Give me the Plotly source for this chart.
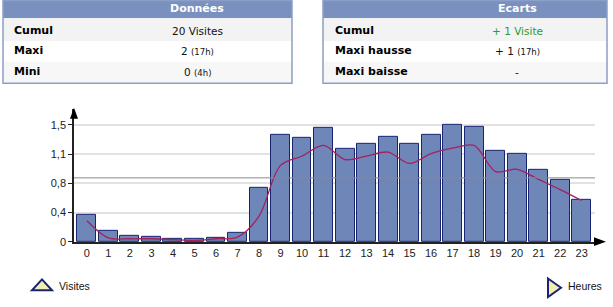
import plotly.graph_objects as go
import numpy as np

W, H = 613, 307

hours = list(range(24))
hour_labels = [str(h) for h in hours]
visites = [0.35, 0.147, 0.08, 0.068, 0.034, 0.04, 0.05, 0.11, 0.687, 1.366, 1.336, 1.457,
           1.19, 1.256, 1.349, 1.256, 1.378, 1.5, 1.475, 1.173, 1.131, 0.922, 0.796, 0.536]
tendance = [0.27, 0.05, 0.04, 0.04, 0.03, 0.02, 0.04, 0.06, 0.33, 0.98, 1.10, 1.236,
            1.055, 1.10, 1.15, 1.005, 1.13, 1.20, 1.236, 0.90, 0.93, 0.80, 0.67, 0.53]
ytick_vals = [0, 0.375, 0.75, 1.125, 1.5]
ytick_text = ["0", "0,4", "0,8", "1,1", "1,5"]
moyenne = float(np.mean(visites))

left_title = "Données"
left_rows = [("Cumul", "20 Visites", None), ("Maxi", "2", "(17h)"), ("Mini", "0", "(4h)")]
right_title = "Ecarts"
right_rows = [("Cumul", "+ 1 Visite", None), ("Maxi hausse", "+ 1", "(17h)"), ("Maxi baisse", "-", None)]

def px(x):
    return x / W

def py(y):
    return 1 - y / H

def path(pts):
    s = "M " + " L ".join(f"{px(x):.5f},{py(y):.5f}" for x, y in pts) + " Z"
    return s

fig = go.Figure()
fig.add_trace(go.Bar(x=hours, y=visites, width=0.88,
                     marker=dict(color="#6e86b8", line=dict(color="#1a2570", width=1)),
                     hoverinfo="skip", showlegend=False))
fig.add_trace(go.Scatter(x=hours, y=tendance, mode="lines", line=dict(color="#a3225e", width=1.3, shape="spline", smoothing=0.9),
                         hoverinfo="skip", showlegend=False))
fig.add_trace(go.Scatter(x=[-0.6, 23.62], y=[moyenne, moyenne], mode="lines",
                         line=dict(color="#8a8a8a", width=1), hoverinfo="skip", showlegend=False))

shapes = []
annotations = []

# Axis arrows
shapes.append(dict(type="path", xref="paper", yref="paper",
                   path=path([(74, 110), (70, 121), (78, 121)]), fillcolor="black", line=dict(width=0)))
shapes.append(dict(type="path", xref="paper", yref="paper",
                   path=path([(606, 246.5), (594, 242), (594, 251)]), fillcolor="black", line=dict(width=0)))

def draw_table(x0, x1, title, title_cx, rows, label_x, val_cx, green_first=False):
    top, hdr, bottom = 0.5, 18.5, 85
    shapes.append(dict(type="rect", xref="paper", yref="paper", x0=px(x0), x1=px(x1), y0=py(hdr), y1=py(top),
                       fillcolor="#7a90bf", line=dict(width=0)))
    row_b = [hdr, 42, 63, bottom]
    fills = ["#f3f3f3", "#ffffff", "#f7f7f7"]
    for i in range(3):
        shapes.append(dict(type="rect", xref="paper", yref="paper", x0=px(x0), x1=px(x1),
                           y0=py(row_b[i + 1]), y1=py(row_b[i]), fillcolor=fills[i], line=dict(width=0)))
    shapes.append(dict(type="rect", xref="paper", yref="paper", x0=px(x0), x1=px(x1), y0=py(bottom), y1=py(top),
                       fillcolor="rgba(0,0,0,0)", line=dict(color="#8c9fc6", width=1.5)))
    annotations.append(dict(xref="paper", yref="paper", x=px(title_cx), y=py(9), text=f"<b>{title}</b>",
                            showarrow=False, font=dict(family="DejaVu Sans", size=11, color="white"),
                            xanchor="center", yanchor="middle"))
    ys = [31.5, 52, 73]
    for i, (lab, val, sub) in enumerate(rows):
        annotations.append(dict(xref="paper", yref="paper", x=px(label_x), y=py(ys[i]), text=f"<b>{lab}</b>",
                                showarrow=False, font=dict(family="DejaVu Sans", size=11, color="black"),
                                xanchor="left", yanchor="middle"))
        txt = val
        if sub:
            txt += f" <span style='font-size:8.5px'>{sub}</span>"
        color = "#2e9a2e" if (green_first and i == 0) else "#111111"
        annotations.append(dict(xref="paper", yref="paper", x=px(val_cx), y=py(ys[i]), text=txt,
                                showarrow=False, font=dict(family="DejaVu Sans", size=10.5, color=color),
                                xanchor="center", yanchor="middle"))

draw_table(3, 292, left_title, 197, left_rows, 12, 197)
draw_table(323, 607, right_title, 517, right_rows, 333, 517, green_first=True)

# Legend icons
shapes.append(dict(type="path", xref="paper", yref="paper",
                   path=path([(42, 285), (32, 296), (52, 296)]), fillcolor="#f2eeb2",
                   line=dict(color="#1a2570", width=2)))
annotations.append(dict(xref="paper", yref="paper", x=px(57), y=py(291.5), text="Visites", showarrow=False,
                        font=dict(family="Liberation Sans", size=10.5, color="#111"), xanchor="left", yanchor="middle"))
shapes.append(dict(type="path", xref="paper", yref="paper",
                   path=path([(548, 284), (561, 293.5), (548, 303)]), fillcolor="#f2eeb2",
                   line=dict(color="#1a2570", width=2)))
annotations.append(dict(xref="paper", yref="paper", x=px(566), y=py(291.5), text="Heures", showarrow=False,
                        font=dict(family="Liberation Sans", size=10.5, color="#111"), xanchor="left", yanchor="middle"))

fig.update_layout(
    width=W, height=H, margin=dict(l=0, r=0, t=0, b=0),
    paper_bgcolor="white", plot_bgcolor="white",
    bargap=0, shapes=shapes, annotations=annotations,
    xaxis=dict(domain=[74 / W, 595 / W], range=[-0.6, 23.62], tickmode="array", tickvals=hours,
               ticktext=hour_labels, showgrid=False, zeroline=False, showline=True, linecolor="#222",
               linewidth=1.5, ticks="", tickfont=dict(family="Liberation Sans", size=11, color="#222"),
               fixedrange=True),
    yaxis=dict(domain=[py(246.7), py(111)], range=[0, (246.7 - 111) / 79.6], tickmode="array",
               tickvals=ytick_vals, ticktext=ytick_text, showgrid=True, gridcolor="#e2e2e2", gridwidth=1.5,
               zeroline=False, showline=True, linecolor="#222", linewidth=1.5, ticks="outside", ticklen=4,
               tickcolor="#222", tickfont=dict(family="Liberation Sans", size=11, color="#222"),
               fixedrange=True),
)

fig.write_html("out.html")
